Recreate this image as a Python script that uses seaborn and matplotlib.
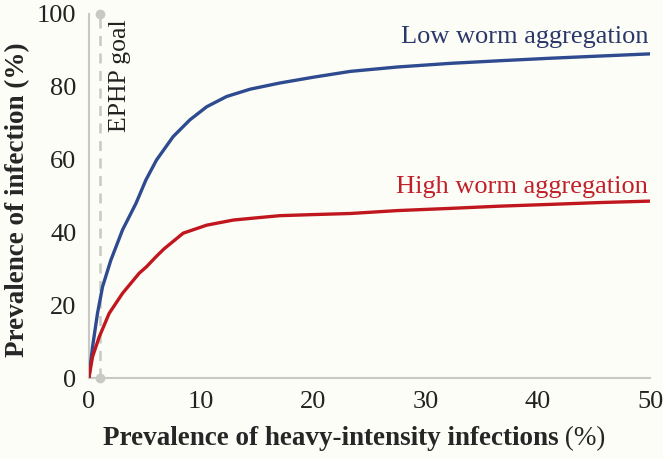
import matplotlib.pyplot as plt
import seaborn as sns
import pandas as pd

# Values
low_x = [0, 0.33, 0.77, 1.22, 1.96, 3.0, 4.2, 5.08, 6.03, 7.51, 9.0, 10.5, 12.27,
         14.35, 17.0, 20.0, 23.3, 27.5, 32.2, 36.5, 41.1, 45.5, 50.0]
low_agg = [0, 8.6, 17.8, 25.1, 32.4, 40.7, 48.0, 54.4, 59.9, 66.3, 70.9, 74.5, 77.3,
           79.3, 81.0, 82.6, 84.2, 85.4, 86.4, 87.1, 87.8, 88.4, 89.0]

high_x = [0, 0.33, 0.92, 1.81, 3.0, 4.48, 5.14, 5.97, 6.7, 8.4, 10.5, 12.86,
          14.9, 17.0, 20.0, 23.3, 27.5, 32.2, 36.5, 41.1, 45.5, 50.0]
high_agg = [0, 5.9, 11.3, 17.8, 23.3, 28.8, 30.6, 33.3, 35.5, 39.8, 42.0, 43.4,
            44.0, 44.6, 44.9, 45.2, 46.0, 46.6, 47.2, 47.7, 48.2, 48.6]

goal_x = 1
x_ticks = [0, 10, 20, 30, 40, 50]
y_ticks = [0, 20, 40, 60, 80, 100]

BG = "#fdfdf8"
BLUE = "#2f4b8f"
RED = "#c0171f"
GREY = "#c8c8c4"

sns.set_theme(style="white")
plt.rcParams['font.family'] = ['Liberation Serif', 'DejaVu Serif']

df_low = pd.DataFrame({"x": low_x, "y": low_agg})
df_high = pd.DataFrame({"x": high_x, "y": high_agg})

fig, ax = plt.subplots(figsize=(6.63, 4.59), dpi=100)
fig.patch.set_facecolor(BG)
ax.set_facecolor(BG)
fig.subplots_adjust(left=0.134, right=0.981, bottom=0.176, top=0.97)

# EPHP goal marker line
ax.plot([goal_x, goal_x], [0, 100], color=GREY, linestyle=(0, (4, 3)), linewidth=1.8,
        marker="o", markersize=6, zorder=1, clip_on=False)
ax.text(goal_x + 1.75, 98.5, "EPHP goal", rotation=90, va="top", ha="center",
        fontsize=18.5, color="#222222")

sns.lineplot(data=df_low, x="x", y="y", ax=ax, color=BLUE, linewidth=2.4, zorder=3)
sns.lineplot(data=df_high, x="x", y="y", ax=ax, color=RED, linewidth=2.4, zorder=3)

ax.text(49.8, 93.5, "Low worm aggregation", ha="right", va="center", fontsize=19, color="#2a3768")
ax.text(49.8, 52.5, "High worm aggregation", ha="right", va="center", fontsize=19, color="#c0202a")

ax.set_xlim(0, 50)
ax.set_ylim(0, 100)
ax.set_xticks(x_ticks)
ax.set_yticks(y_ticks)
ax.tick_params(axis="both", length=0, labelsize=19, colors="#222222", pad=9)
for side in ["top", "right"]:
    ax.spines[side].set_visible(False)
for side in ["left", "bottom"]:
    ax.spines[side].set_color(GREY)
    ax.spines[side].set_linewidth(1.5)

ax.set_xlabel("")
ax.set_ylabel("Prevalence of infection (%)", fontsize=19.5, fontweight="bold")
ax.yaxis.set_label_coords(-0.105, 0.49)

t = fig.text(0.155, 0.045, "Prevalence of heavy-intensity infections", fontsize=19.5,
             fontweight="bold", ha="left", va="center")
ax.annotate(" (%)", xy=(1, 0), xycoords=t, va="bottom", ha="left", fontsize=19.5)

plt.savefig("out.png", dpi=100, facecolor=BG)
plt.close()
